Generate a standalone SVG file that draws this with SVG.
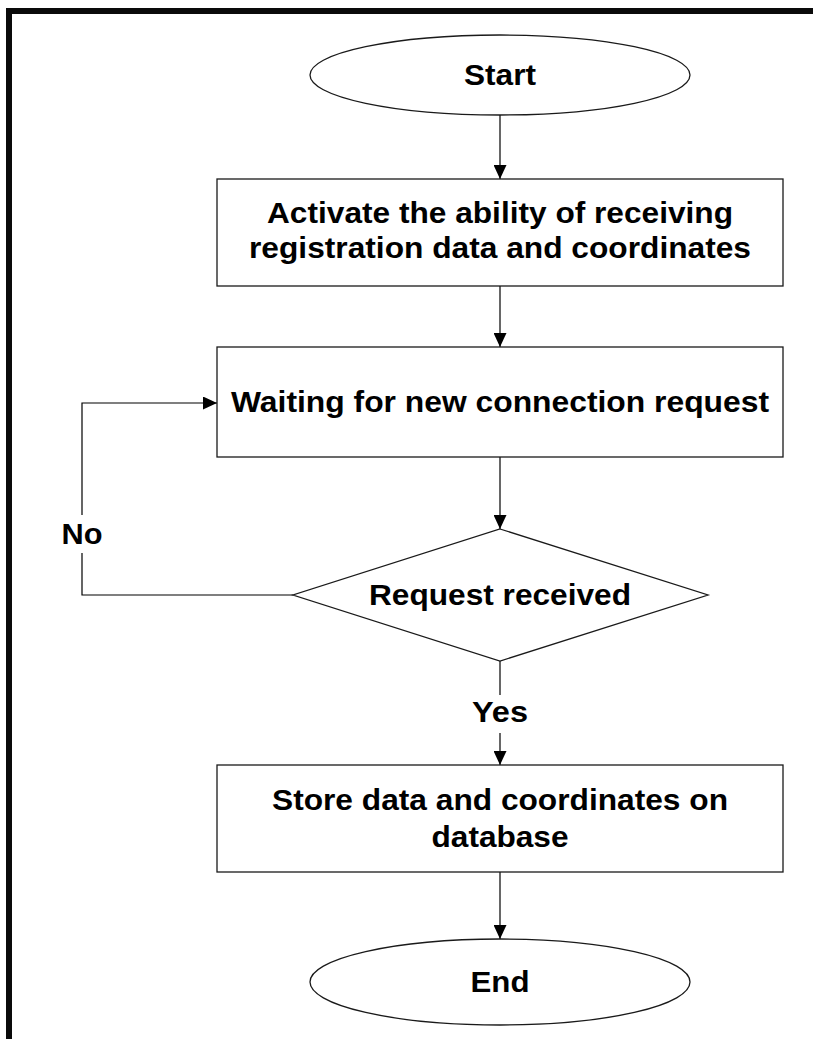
<svg xmlns="http://www.w3.org/2000/svg" width="813" height="1039" viewBox="0 0 813 1039">
  <style>
    .shape { fill: #ffffff; stroke: #1a1a1a; stroke-width: 1.3; }
    .edge { fill: none; stroke: #000000; stroke-width: 1.2; }
    .label { font-family: "Liberation Sans", Arial, sans-serif; font-weight: bold; font-size: 29px; fill: #000000; text-anchor: middle; }
    .frame { fill: none; stroke: #0a0a0a; stroke-width: 6; }
  </style>
  <defs>
    <marker id="arrow" viewBox="0 0 14 13" refX="14" refY="6.5" markerWidth="14" markerHeight="13" markerUnits="userSpaceOnUse" orient="auto">
      <path d="M0,0 L14,6.5 L0,13 Z" fill="#000000"/>
    </marker>
  </defs>

  <rect width="813" height="1039" fill="#ffffff"/>

  <!-- page frame: top rule and left rule only -->
  <path class="frame" d="M9,1039 L9,11 L813,11"/>

  <!-- connectors -->
  <g id="connectors">
    <line class="edge" x1="500" y1="115" x2="500" y2="179" marker-end="url(#arrow)"/>
    <line class="edge" x1="500" y1="286" x2="500" y2="347" marker-end="url(#arrow)"/>
    <line class="edge" x1="500" y1="457" x2="500" y2="529" marker-end="url(#arrow)"/>
    <!-- yes branch, broken around its label -->
    <line class="edge" x1="500" y1="661" x2="500" y2="695"/>
    <line class="edge" x1="500" y1="733" x2="500" y2="765" marker-end="url(#arrow)"/>
    <line class="edge" x1="500" y1="872" x2="500" y2="939" marker-end="url(#arrow)"/>
    <!-- no branch loops back to the waiting step -->
    <polyline class="edge" points="293,595 82,595 82,553"/>
    <polyline class="edge" points="82,515 82,403 217,403" marker-end="url(#arrow)"/>
    <text class="label" x="500" y="722" textLength="56" lengthAdjust="spacingAndGlyphs">Yes</text>
    <text class="label" x="82" y="544" textLength="41" lengthAdjust="spacingAndGlyphs">No</text>
  </g>

  <g id="start">
    <ellipse class="shape" cx="500" cy="75" rx="190" ry="40"/>
    <text class="label" x="500" y="85" textLength="72" lengthAdjust="spacingAndGlyphs">Start</text>
  </g>

  <g id="activate">
    <rect class="shape" x="217" y="179" width="566" height="107"/>
    <text class="label" x="500" y="223" textLength="466" lengthAdjust="spacingAndGlyphs">Activate the ability of receiving</text>
    <text class="label" x="500" y="258" textLength="502" lengthAdjust="spacingAndGlyphs">registration data and coordinates</text>
  </g>

  <g id="waiting">
    <rect class="shape" x="217" y="347" width="566" height="110"/>
    <text class="label" x="500" y="412" textLength="538" lengthAdjust="spacingAndGlyphs">Waiting for new connection request</text>
  </g>

  <g id="decision">
    <polygon class="shape" points="500,529 708,595 500,661 293,595"/>
    <text class="label" x="500" y="605" textLength="262" lengthAdjust="spacingAndGlyphs">Request received</text>
  </g>

  <g id="store">
    <rect class="shape" x="217" y="765" width="566" height="107"/>
    <text class="label" x="500" y="810" textLength="456" lengthAdjust="spacingAndGlyphs">Store data and coordinates on</text>
    <text class="label" x="500" y="847" textLength="137" lengthAdjust="spacingAndGlyphs">database</text>
  </g>

  <g id="end">
    <ellipse class="shape" cx="500" cy="982" rx="190" ry="43"/>
    <text class="label" x="500" y="992" textLength="59" lengthAdjust="spacingAndGlyphs">End</text>
  </g>
</svg>
